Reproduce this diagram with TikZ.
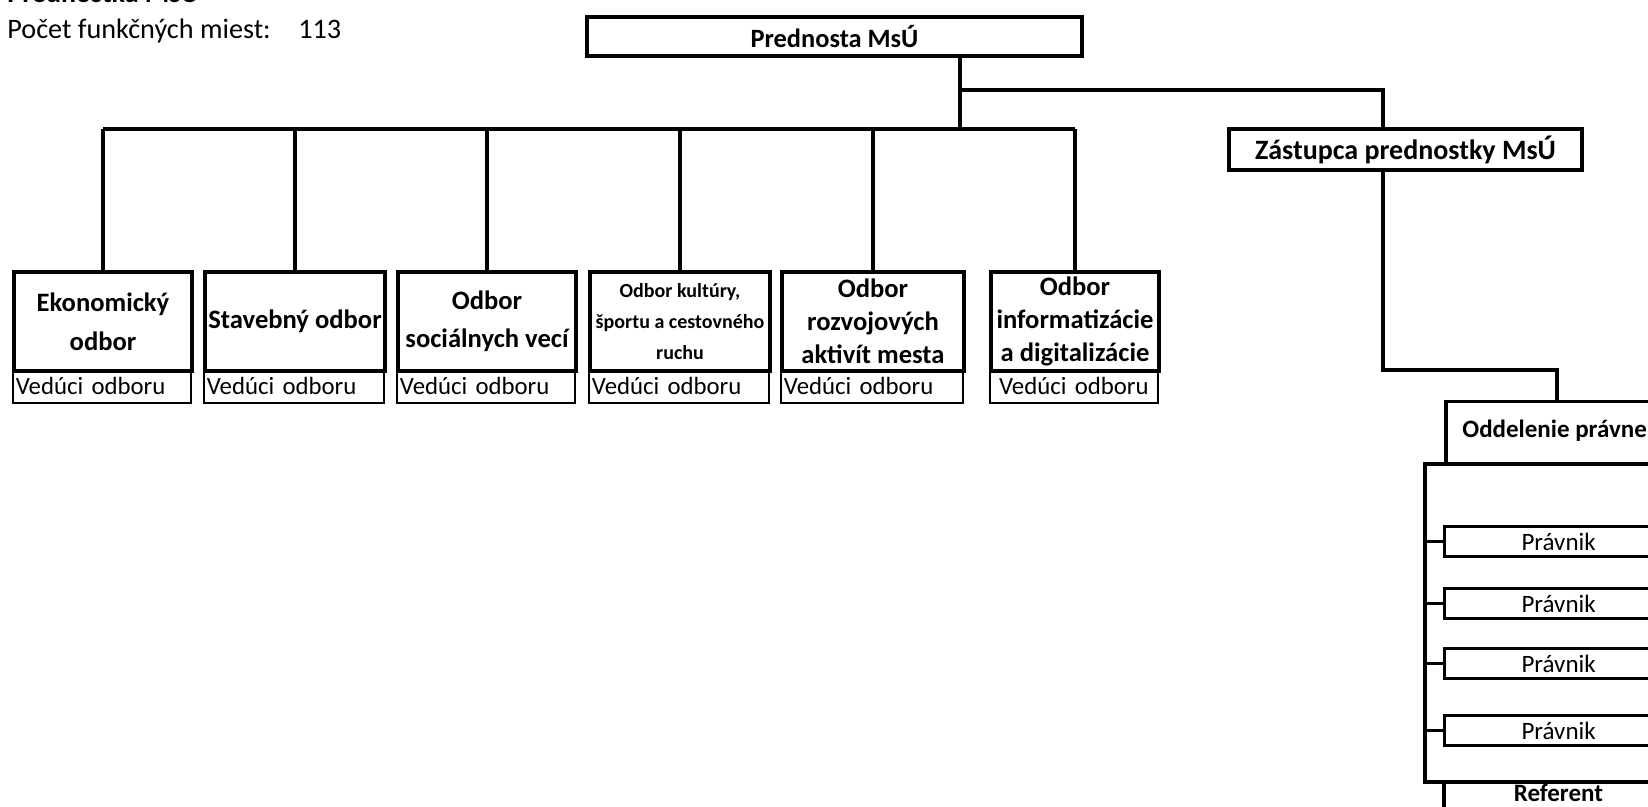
\documentclass[tikz,border=0pt]{standalone}
\usepackage{fontspec}
\setmainfont{Carlito}
\begin{document}
\begin{tikzpicture}[x=0.5pt,y=-0.5pt,
  conn/.style={line width=1.6pt},
  deptbox/.style={draw,line width=2pt,inner sep=0pt,anchor=north west,align=center,minimum height=49.5pt,font=\bfseries\fontsize{13.3}{17.5}\selectfont},
  headbox/.style={draw,line width=0.9pt,inner sep=0pt,inner xsep=1.5pt,anchor=north west,minimum height=16.5pt,align=left,font=\fontsize{12.4}{14}\selectfont},
  topbox/.style={draw,line width=2pt,inner sep=0pt,anchor=north west,minimum height=19.5pt,font=\bfseries\fontsize{13.2}{15}\selectfont},
  subbox/.style={draw,line width=1.6pt,inner sep=0pt,anchor=north west,minimum width=114pt,minimum height=15pt,font=\fontsize{12.5}{14}\selectfont},
  plain/.style={inner sep=0pt,anchor=base west}
]
\useasboundingbox (0,0) rectangle (1648,807);
\clip (0,0) rectangle (1648,807);

% header texts
\node[plain,font=\bfseries\fontsize{14}{16}\selectfont] (title) at (7,3) {Prednostka MsÚ};
\node[plain,font=\fontsize{14.1}{16}\selectfont] (count) at (7,39) {Počet funkčných miest:};
\node[plain,font=\fontsize{14.1}{16}\selectfont] (num) at (298,39) {113};

% top boxes
\node[topbox,minimum width=247.5pt] (pred) at (585,15) {Prednosta MsÚ};
\node[topbox,minimum width=176.5pt,minimum height=20.5pt,font=\bfseries\fontsize{14}{16}\selectfont] (zast) at (1227,127) {Zástupca prednostky MsÚ};

% department boxes
\node[deptbox,minimum width=89pt,font=\bfseries\fontsize{13.3}{19.5}\selectfont] (b1) at (12,270) {Ekonomický\\odbor};
\node[deptbox,minimum width=90pt] (b2) at (203,270) {Stavebný odbor};
\node[deptbox,minimum width=89pt,font=\bfseries\fontsize{13.3}{19}\selectfont] (b3) at (396,270) {Odbor\\sociálnych vecí};
\node[deptbox,minimum width=90pt,font=\bfseries\fontsize{10}{15.5}\selectfont] (b4) at (588,270) {Odbor kultúry,\\športu a cestovného\\ruchu};
\node[deptbox,minimum width=91pt,font=\bfseries\fontsize{13.3}{16.5}\selectfont] (b5) at (780,270) {Odbor\\rozvojových\\aktivít mesta};
\node[deptbox,minimum width=84pt,font=\bfseries\fontsize{13.3}{16.5}\selectfont] (b6) at (989,270) {Odbor\\informatizácie\\a digitalizácie};

% heads
\node[headbox,text width=86pt] (h1) at (12,369) {Vedúci odboru};
\node[headbox,text width=87pt] (h2) at (203,369) {Vedúci odboru};
\node[headbox,text width=86pt] (h3) at (396,369) {Vedúci odboru};
\node[headbox,text width=87pt] (h4) at (588,369) {Vedúci odboru};
\node[headbox,text width=88pt] (h5) at (780,369) {Vedúci odboru};
\node[headbox,text width=81pt,align=center] (h6) at (989,369) {Vedúci odboru};

% connectors top
\coordinate (bus) at (960,129);
\coordinate (br) at (960,90);
\coordinate (zx) at (1383,0);
\coordinate (bend) at (1470,370);
\coordinate (ox) at (1557,0);
\draw[conn] (pred.south -| bus) -- (bus);
\draw[conn] (b1.north |- bus) -- (b6.north |- bus);
\foreach \i in {1,...,6} {\draw[conn] (b\i.north) -- (b\i.north |- bus);}
\draw[conn] (br) -| (zast.north -| zx);

% right section
\node[draw,line width=1.75pt,inner sep=0pt,anchor=north west,minimum width=140pt,minimum height=159pt] (grp) at (1423,462) {};
\node[draw,line width=1.75pt,inner sep=0pt,anchor=north west,minimum width=158pt,minimum height=31pt] (odd) at (1444,400) {};
\node[inner sep=0pt,anchor=west,font=\bfseries\fontsize{12.5}{15}\selectfont] (oddt) at (1462,431) {Oddelenie právne};
\draw[conn] (zast.south -| zx) |- (bend) -| (odd.north -| ox);

\node[subbox] (p1) at (1443,525) {Právnik};
\node[subbox] (p2) at (1443,587) {Právnik};
\node[subbox] (p3) at (1443,647) {Právnik};
\node[subbox] (p4) at (1443,714) {Právnik};
\foreach \i in {1,...,4} {\draw[conn] (grp.west |- p\i.west) -- (p\i.west);}
\node[inner sep=0pt,anchor=north west,minimum width=114pt,minimum height=11pt,font=\bfseries\fontsize{12.5}{14}\selectfont] (ref) at (1444,781) {Referent};
\draw[line width=1.6pt] (ref.north west) -- (ref.south west) -- ++(0,10);
\end{tikzpicture}
\end{document}
